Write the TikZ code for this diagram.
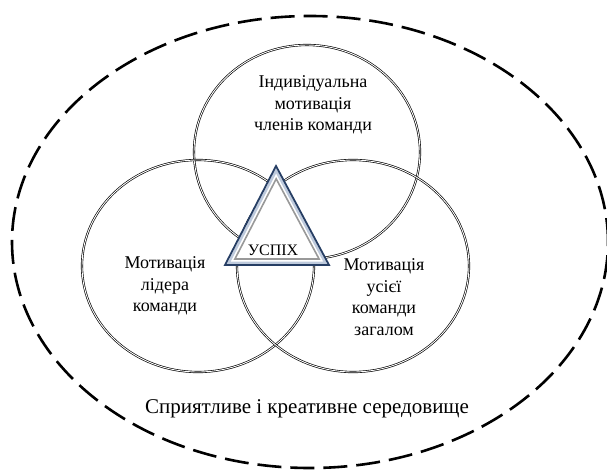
\documentclass[tikz,border=0pt]{standalone}
\usepackage{fontspec}
\setmainfont{Liberation Serif}
\usepackage{tikz}
\usetikzlibrary{positioning,calc,shapes.geometric}
\definecolor{navy}{RGB}{38,62,100}
\definecolor{paleblue}{RGB}{190,202,220}
\tikzstyle{circ} = [draw=black, ellipse, line width=0.65pt, double=white, double distance=0.9pt, inner sep=0pt]
\tikzstyle{envir} = [draw=black, ellipse, line width=2.6pt, dash pattern=on 24pt off 9pt, inner sep=0pt]
\tikzstyle{label} = [align=center, font=\fontsize{18}{21.5}\selectfont, inner sep=0pt]

\begin{document}
\begin{tikzpicture}[x=1pt,y=-1pt]
  \useasboundingbox (0,0) rectangle (607,471);
  % outer environment
  \node[envir, minimum width=596pt, minimum height=452pt] (envir) at (310,242) {};
  % three motivation circles
  \node[circ, minimum width=226pt, minimum height=214pt] (indiv) at (307,152) {};
  \node[circ, minimum width=232pt, minimum height=212pt] (leader) at (198,266) {};
  \node[circ, minimum width=232pt, minimum height=212pt] (team) at (353,266) {};
  % success triangle
  \coordinate (apex) at (276,166);
  \coordinate (bl) at (225,265);
  \coordinate (br) at (329,265);
  \coordinate (ctr) at (277,233.6);
  \fill[white] (apex) -- (bl) -- (br) -- cycle;
  \draw[paleblue, line width=2.5pt, line join=miter]
    ($(ctr)!0.93!(apex)$) -- ($(ctr)!0.93!(bl)$) -- ($(ctr)!0.93!(br)$) -- cycle;
  \draw[navy, line width=1.8pt, line join=miter] (apex) -- (bl) -- (br) -- cycle;
  \draw[black!40, line width=1.6pt, line join=miter]
    ($(ctr)!0.81!(apex)$) -- ($(ctr)!0.81!(bl)$) -- ($(ctr)!0.81!(br)$) -- cycle;
  % texts
  \node[label] (indivtext) at (313,105) {Індивідуальна\\мотивація\\членів команди};
  \node[label] (leadertext) at (165,286) {Мотивація\\лідера\\команди};
  \node[label] (teamtext) at (384,297) {Мотивація\\усієї\\команди\\загалом};
  \node[font=\fontsize{16}{18}\selectfont, inner sep=0pt] (success) at (273,250) {УСПІХ};
  \node[font=\fontsize{21}{24}\selectfont, inner sep=0pt] (envirtext) at (307,409) {Сприятливе і креативне середовище};
\end{tikzpicture}
\end{document}
